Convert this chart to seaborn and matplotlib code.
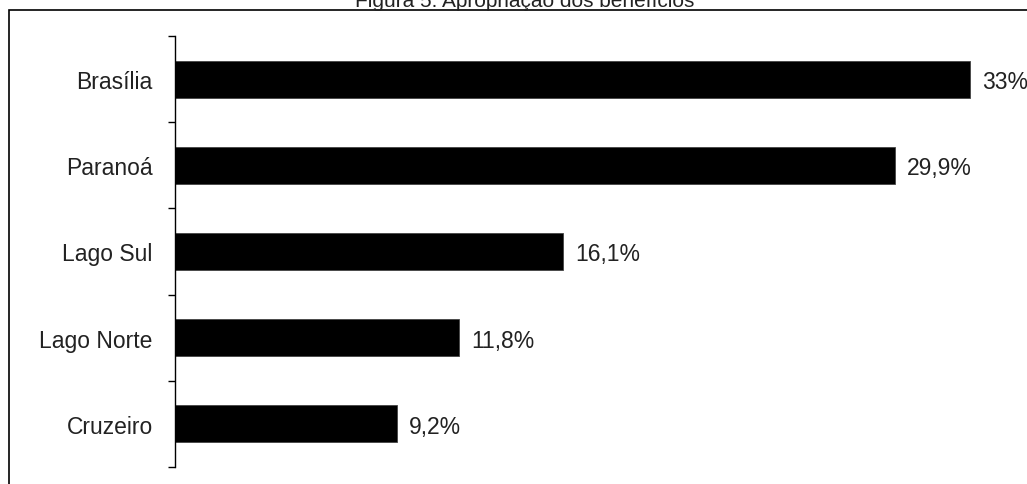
import pandas as pd
import seaborn as sns
import matplotlib.pyplot as plt
from matplotlib.patches import Rectangle

# Dados do grafico
regioes = ['Brasília', 'Paranoá', 'Lago Sul', 'Lago Norte', 'Cruzeiro']
percentuais = [33.0, 29.9, 16.1, 11.8, 9.2]
rotulos = ['33%', '29,9%', '16,1%', '11,8%', '9,2%']

df = pd.DataFrame({'regiao': regioes, 'pct': percentuais})

plt.rcParams['font.family'] = ['Liberation Sans', 'DejaVu Sans']

fig = plt.figure(figsize=(10.27, 4.85), dpi=100)
ax = fig.add_axes([175 / 1027, 17 / 485, 852 / 1027, 431 / 485])

sns.barplot(data=df, y='regiao', x='pct', orient='h', color='black',
            width=0.43, ax=ax, edgecolor='#444444', linewidth=0.6)

ax.set_xlim(0, 852 / 24.09)
ax.set_ylim(4.5, -0.5)

# Rotulos de valor ao lado das barras
for i, txt in enumerate(rotulos):
    ax.text(percentuais[i] + 0.5, i, txt, va='center_baseline', ha='left',
            fontsize=16.5, color='#222222')

# Eixos
for s in ['top', 'right', 'bottom']:
    ax.spines[s].set_visible(False)
ax.spines['left'].set_linewidth(1.0)
ax.set_xticks([])
ax.set_xlabel('')
ax.set_ylabel('')
ax.set_yticks(range(len(regioes)))
ax.set_yticklabels(regioes, fontsize=16.5, color='#222222')
ax.tick_params(axis='y', which='major', length=0, pad=16)
ax.set_yticks([i - 0.5 for i in range(len(regioes) + 1)], minor=True)
ax.tick_params(axis='y', which='minor', length=5, width=1.0, direction='out')

# Moldura externa
fig.patches.append(Rectangle((9 / 1027, -0.1), 1.2, (485 - 11) / 485 + 0.1,
                             transform=fig.transFigure, fill=False,
                             edgecolor='black', linewidth=1.2, clip_on=False))

fig.text(525 / 1027, (485 - 7) / 485, 'Figura 5: Apropriação dos benefícios',
         ha='center', va='baseline', fontsize=15, color='#222222')

fig.savefig('out.png', dpi=100)
